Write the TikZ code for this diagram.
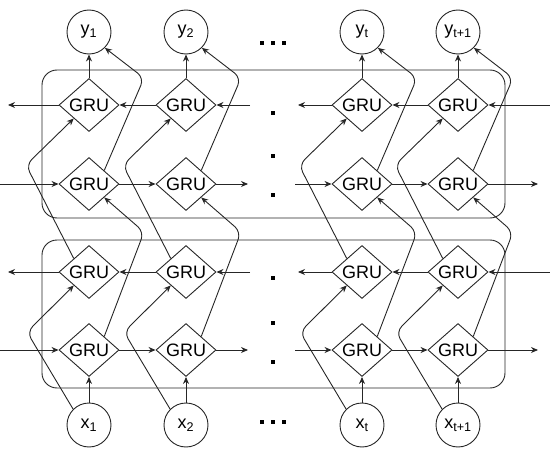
\documentclass[tikz,border=0pt]{standalone}
\usepackage{fontspec}
\setmainfont{Liberation Sans}
\usetikzlibrary{shapes.geometric, arrows.meta}

\begin{document}
\begin{tikzpicture}[x=1pt, y=-1pt,
  line width=0.9pt, draw=black!85,
  font=\fontsize{18}{21}\selectfont,
  gru/.style={draw, diamond, minimum width=60pt, minimum height=53pt, inner sep=0pt, label={center:GRU}},
  io/.style={draw, circle, minimum size=44pt, inner sep=0pt},
  arr/.style={-{Stealth[length=7pt,width=6pt]}},
  link/.style={arr, rounded corners=8pt},
  dotm/.style={fill=black, rectangle, minimum size=3.5pt, inner sep=0pt},
  frame/.style={draw, rounded corners=15pt}
]
\useasboundingbox (0,0) rectangle (550,455);

% frames
\draw[frame] (42,70) rectangle (505,218);
\draw[frame] (42,240) rectangle (505,388);

% nodes per column
\foreach \i/\X/\s in {1/89/1, 2/186/2, 3/362/t, 4/458/t+1}{
  \node[io] (y\i) at (\X,32) {y\textsubscript{\s}};
  \node[gru] (a\i) at (\X,105) {};
  \node[gru] (b\i) at (\X,184) {};
  \node[gru] (c\i) at (\X,272) {};
  \node[gru] (d\i) at (\X,350) {};
  \node[io] (x\i) at (\X,425) {x\textsubscript{\s}};
}

% vertical and bent connectors
\foreach \i/\X in {1/89, 2/186, 3/362, 4/458}{
  \draw[arr] (a\i) -- (y\i);
  \draw[arr] (x\i) -- (d\i);
  \draw[link] (b\i.north east) -- ({\X+55},78) -- (y\i.south east);
  \draw[link] (c\i.north west) -- ({\X-63},165) -- (a\i.south west);
  \draw[link] (d\i.north east) -- ({\X+55},232) -- (b\i.south east);
  \draw[link] (x\i.north west) -- ({\X-62},332) -- (c\i.south west);
}

% free ends of horizontal connectors
\coordinate (aL) at (8,105);   \coordinate (aM1) at (250,105);
\coordinate (aM2) at (298,105); \coordinate (aR) at (550,105);
\coordinate (bL) at (0,184);   \coordinate (bM1) at (248,184);
\coordinate (bM2) at (295,184); \coordinate (bR) at (538,184);
\coordinate (cL) at (8,272);   \coordinate (cM1) at (250,272);
\coordinate (cM2) at (298,272); \coordinate (cR) at (550,272);
\coordinate (dL) at (0,350);   \coordinate (dM1) at (248,350);
\coordinate (dM2) at (295,350); \coordinate (dR) at (538,350);

% backward rows (a, c)
\foreach \r in {a,c}{
  \draw[arr] (\r1) -- (\r L);
  \draw[arr] (\r2) -- (\r1);
  \draw[arr] (\r M1) -- (\r2);
  \draw[arr] (\r3) -- (\r M2);
  \draw[arr] (\r4) -- (\r3);
  \draw[arr] (\r R) -- (\r4);
}
% forward rows (b, d)
\foreach \r in {b,d}{
  \draw[arr] (\r L) -- (\r1);
  \draw[arr] (\r1) -- (\r2);
  \draw[arr] (\r2) -- (\r M1);
  \draw[arr] (\r M2) -- (\r3);
  \draw[arr] (\r3) -- (\r4);
  \draw[arr] (\r4) -- (\r R);
}

% ellipsis dots
\foreach \px in {262,273,284}{
  \node[dotm] (dt\px) at (\px,43) {};
  \node[dotm] (db\px) at (\px,422) {};
}
\foreach \py in {113,156,195,278,323,362}{
  \node[dotm] (dv\py) at (273,\py) {};
}
\end{tikzpicture}
\end{document}
